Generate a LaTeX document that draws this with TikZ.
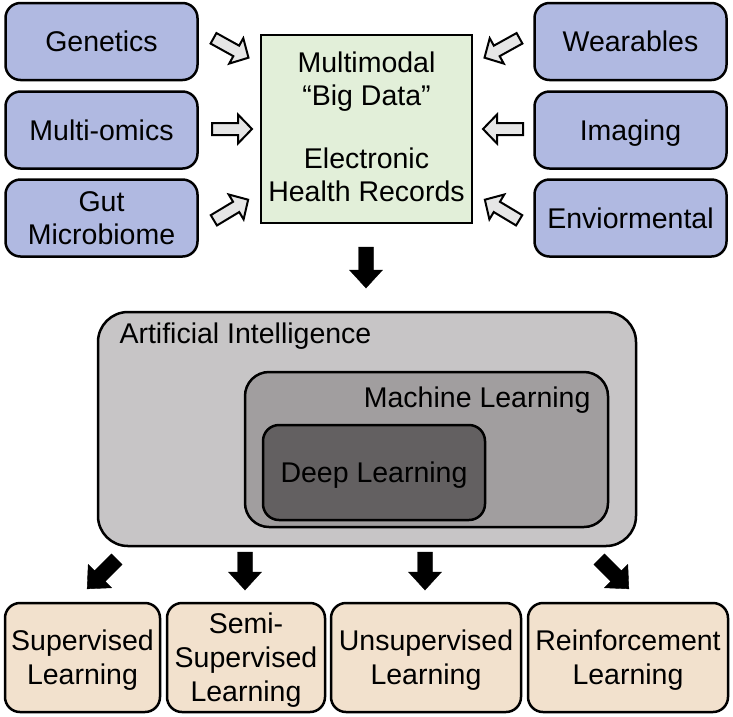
\documentclass[tikz,border=0pt]{standalone}
\usepackage{fontspec}
\setmainfont{Liberation Sans}
\definecolor{srcblue}{HTML}{B0B9E1}
\definecolor{datagreen}{HTML}{E2EFD9}
\definecolor{peach}{HTML}{F2E1CD}
\definecolor{aigray}{HTML}{C7C5C6}
\definecolor{mlgray}{HTML}{A19E9F}
\definecolor{dlgray}{HTML}{636061}
\definecolor{arrowgray}{HTML}{E6E6E6}
% block arrow: style, x, y, angle, length, shaft half-width, head half-width, head length
\newcommand{\blockarr}[8]{%
  \draw[#1, shift={(#2,#3)}, rotate=#4]
    ({-#5/2},{-#6}) -- ({#5/2-#8},{-#6}) -- ({#5/2-#8},{-#7}) -- ({#5/2},0)
    -- ({#5/2-#8},{#7}) -- ({#5/2-#8},{#6}) -- ({-#5/2},{#6}) -- cycle;}
\begin{document}
\begin{tikzpicture}[x=1pt,y=-1pt,
  txt/.style={font=\fontsize{28.5}{33}\selectfont, text depth=0pt},
  box/.style={txt, draw=black, line width=2.5pt, align=center, inner sep=0pt},
  src/.style={box, fill=srcblue, rounded corners=15pt, minimum width=192pt, minimum height=77pt},
  outbox/.style={box, fill=peach, rounded corners=15pt, minimum height=109pt, font=\fontsize{28.5}{34}\selectfont},
  hollowarr/.style={draw=black, fill=arrowgray, line width=2pt, line join=miter},
  solidarr/.style={fill=black}
]
\useasboundingbox (0,0) rectangle (733,716);
% sources
\node[src] (gen) at (101.5,41.5) {Genetics};
\node[src] (omics) at (101.5,130) {Multi-omics};
\node[src] (gut) at (101.5,218) {Gut\\Microbiome};
\node[src] (wear) at (630.5,41.5) {Wearables};
\node[src] (img) at (630.5,130) {Imaging};
\node[src] (env) at (630.5,218) {Enviormental};
% data box
\node[box, fill=datagreen, minimum width=211pt, minimum height=188pt] (data) at (366.5,129) {};
\node[txt, align=center, inner sep=0pt] (datatext) at ([yshift=2.5pt]data.center) {Multimodal\\“Big Data”\\[30pt]Electronic\\Health Records};
% hollow arrows
\blockarr{hollowarr}{231}{48}{-29}{40}{6}{14.5}{14}
\blockarr{hollowarr}{232}{129}{0}{40}{6}{14.5}{14}
\blockarr{hollowarr}{231}{210}{31}{40}{6}{14.5}{14}
\blockarr{hollowarr}{502}{48}{209}{40}{6}{14.5}{14}
\blockarr{hollowarr}{503}{129}{180}{40}{6}{14.5}{14}
\blockarr{hollowarr}{502}{210}{149}{40}{6}{14.5}{14}
% down arrow
\blockarr{solidarr}{366}{267.5}{-90}{41}{7.5}{16.5}{18}
% AI nest
\node[draw=black, line width=2.5pt, fill=aigray, rounded corners=30pt, minimum width=538pt, minimum height=234pt] (ai) at (367,429) {};
\node[txt, anchor=west] (ailab) at (116,333) {Artificial Intelligence};
\node[draw=black, line width=2.5pt, fill=mlgray, rounded corners=24pt, minimum width=363pt, minimum height=155pt] (ml) at (426.5,449.5) {};
\node[txt, anchor=east] (mllab) at (594,397) {Machine Learning};
\node[draw=black, line width=2.5pt, fill=dlgray, rounded corners=16pt, minimum width=222pt, minimum height=95pt, txt] (dl) at (374,472.5) {Deep Learning};
% bottom arrows
\blockarr{solidarr}{102}{574}{-135}{42}{7.5}{16.5}{18}
\blockarr{solidarr}{245}{571}{-90}{38}{7.5}{16.5}{18}
\blockarr{solidarr}{425}{571}{-90}{38}{7.5}{16.5}{18}
\blockarr{solidarr}{614}{574}{-45}{42}{7.5}{16.5}{18}
% outputs
\node[outbox, minimum width=155pt] (sup) at (82.5,657.5) {Supervised\\Learning};
\node[outbox, minimum width=158pt] (semi) at (246,657.5) {Semi-\\Supervised\\Learning};
\node[outbox, minimum width=190pt] (uns) at (426,657.5) {Unsupervised\\Learning};
\node[outbox, minimum width=200pt] (rein) at (628,657.5) {Reinforcement\\Learning};
\end{tikzpicture}
\end{document}
